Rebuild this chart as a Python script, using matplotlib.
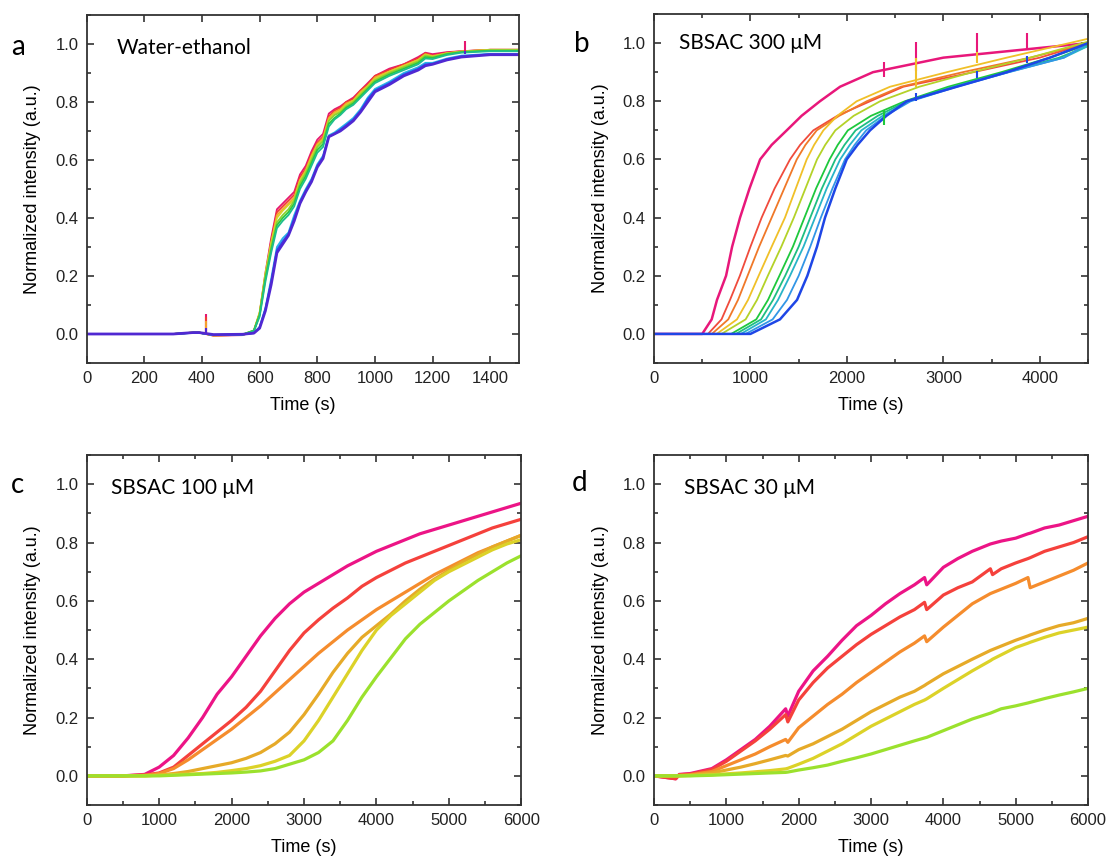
import matplotlib
matplotlib.use("Agg")
import matplotlib.pyplot as plt
from matplotlib.ticker import MultipleLocator

################################################################################
# Data
################################################################################
# panel a: water-ethanol, shared time grid
ta = [0, 300, 370, 390, 440, 540, 580, 600, 620, 640, 660, 680, 700, 720, 740,
      760, 780, 800, 820, 840, 860, 880, 900, 925, 950, 975, 1000, 1050, 1100,
      1150, 1175, 1200, 1250, 1300, 1400, 1500]
a_magenta = [0, 0, 0.005, 0.005, -0.006, -0.004, 0.01, 0.07, 0.21, 0.33, 0.43, 0.45,
             0.47, 0.49, 0.55, 0.58, 0.63, 0.67, 0.69, 0.76, 0.775, 0.785, 0.80,
             0.815, 0.84, 0.865, 0.89, 0.915, 0.93, 0.955, 0.97, 0.965, 0.972,
             0.975, 0.98, 0.98]
a_red = [0, 0, 0.005, 0.005, -0.005, -0.003, 0.01, 0.07, 0.2, 0.32, 0.42, 0.44,
         0.46, 0.48, 0.54, 0.57, 0.62, 0.66, 0.68, 0.75, 0.77, 0.78, 0.80, 0.81,
         0.84, 0.86, 0.89, 0.91, 0.93, 0.95, 0.968, 0.96, 0.97, 0.975, 0.98, 0.98]
a_orange = [0, 0, 0.005, 0.005, -0.005, -0.003, 0.01, 0.07, 0.2, 0.31, 0.41, 0.43,
            0.45, 0.47, 0.53, 0.565, 0.615, 0.655, 0.675, 0.745, 0.765, 0.775,
            0.795, 0.805, 0.835, 0.855, 0.885, 0.905, 0.925, 0.945, 0.965, 0.958,
            0.968, 0.974, 0.98, 0.98]
a_yellow = [0, 0, 0.005, 0.005, -0.005, -0.003, 0.012, 0.075, 0.21, 0.315, 0.4,
            0.425, 0.445, 0.465, 0.53, 0.56, 0.61, 0.65, 0.67, 0.74, 0.76, 0.77,
            0.79, 0.805, 0.83, 0.855, 0.88, 0.905, 0.925, 0.945, 0.963, 0.957,
            0.968, 0.974, 0.98, 0.98]
a_ygreen = [0, 0, 0.005, 0.005, -0.004, -0.002, 0.012, 0.07, 0.2, 0.3, 0.385, 0.41,
            0.43, 0.46, 0.52, 0.555, 0.6, 0.645, 0.665, 0.735, 0.755, 0.765, 0.785,
            0.8, 0.825, 0.85, 0.875, 0.9, 0.92, 0.94, 0.96, 0.955, 0.967, 0.973,
            0.978, 0.978]
a_green = [0, 0, 0.005, 0.005, -0.004, -0.002, 0.012, 0.065, 0.19, 0.29, 0.375, 0.4,
           0.42, 0.45, 0.51, 0.545, 0.59, 0.635, 0.655, 0.725, 0.745, 0.76, 0.78,
           0.795, 0.82, 0.845, 0.87, 0.895, 0.915, 0.935, 0.955, 0.952, 0.965,
           0.972, 0.977, 0.977]
a_teal = [0, 0, 0.004, 0.004, -0.003, -0.002, 0.01, 0.06, 0.18, 0.28, 0.365, 0.39,
          0.41, 0.44, 0.5, 0.535, 0.58, 0.625, 0.645, 0.715, 0.74, 0.755, 0.775,
          0.79, 0.815, 0.84, 0.865, 0.89, 0.91, 0.93, 0.95, 0.948, 0.962, 0.97,
          0.975, 0.975]
a_cyan = [0, 0, 0.004, 0.004, -0.003, -0.002, 0.004, 0.025, 0.09, 0.19, 0.3, 0.33,
          0.35, 0.41, 0.46, 0.5, 0.535, 0.585, 0.615, 0.685, 0.695, 0.71, 0.725,
          0.745, 0.775, 0.815, 0.845, 0.87, 0.9, 0.92, 0.935, 0.935, 0.95, 0.96,
          0.966, 0.966]
a_blue = [0, 0, 0.004, 0.004, -0.003, -0.002, 0.003, 0.022, 0.085, 0.18, 0.29, 0.32,
          0.345, 0.4, 0.455, 0.495, 0.53, 0.58, 0.61, 0.68, 0.69, 0.705, 0.72,
          0.74, 0.77, 0.81, 0.84, 0.865, 0.895, 0.915, 0.93, 0.932, 0.948, 0.958,
          0.965, 0.965]
a_violet = [0, 0, 0.005, 0.005, -0.002, -0.001, 0.003, 0.02, 0.08, 0.17, 0.28, 0.31,
            0.34, 0.39, 0.45, 0.49, 0.525, 0.575, 0.605, 0.68, 0.69, 0.7, 0.715,
            0.735, 0.765, 0.8, 0.835, 0.86, 0.89, 0.91, 0.925, 0.93, 0.945, 0.955,
            0.963, 0.963]
# small spikes in panel a
a_spike_t = [415, 415, 415, 415, 1312, 1312]
a_spike_lo = [0.0, 0.0, 0.0, 0.0, 0.975, 0.965]
a_spike_hi = [0.07, 0.06, 0.045, 0.02, 1.01, 0.975]

# panel b: SBSAC 300 uM, time at which each curve crosses the shared levels
b_levels = [0.05, 0.117, 0.2, 0.3, 0.4, 0.5, 0.6, 0.65, 0.7, 0.75, 0.8, 0.85,
            0.9, 0.95]
b_magenta = [598, 653, 747, 810, 892, 990, 1100, 1220, 1376, 1530, 1720, 1929,
             2270, 3000]
b_red = [700, 788, 890, 1000, 1116, 1250, 1410, 1515, 1652, 1900, 2240, 2585,
         3310, 4000]
b_orange = [770, 871, 970, 1090, 1220, 1350, 1480, 1570, 1687, 1920, 2205, 2560,
            3200, 3900]
b_yellow = [860, 975, 1085, 1220, 1358, 1470, 1583, 1660, 1756, 1900, 2101, 2447,
            3035, 3657]
b_ygreen = [950, 1068, 1180, 1320, 1450, 1570, 1690, 1775, 1880, 2070, 2344, 2750,
            3300, 3900]
b_green = [1060, 1182, 1300, 1440, 1560, 1680, 1820, 1905, 2010, 2250, 2600, 3050,
           3600, 4100]
b_teal = [1110, 1234, 1360, 1500, 1620, 1740, 1880, 1975, 2090, 2320, 2620, 3100,
          3650, 4200]
b_cyan = [1160, 1286, 1410, 1550, 1670, 1790, 1930, 2030, 2150, 2370, 2640, 3120,
          3670, 4250]
b_lblue = [1230, 1379, 1500, 1620, 1730, 1850, 1980, 2080, 2200, 2400, 2660, 3140,
           3680, 4250]
b_blue = [1306, 1483, 1590, 1690, 1773, 1880, 1998, 2110, 2240, 2410, 2620, 3139,
          3657, 4106]
b_start = [500, 560, 600, 650, 700, 800, 850, 900, 950, 1000]
b_end = [1.0, 1.0, 1.0, 1.015, 1.005, 0.995, 0.99, 0.99, 1.0, 1.0]
b_spike_t = [2380, 2720, 3350, 3870, 2720, 3350, 2380, 2720, 3350, 3870]
b_spike_lo = [0.885, 0.905, 0.955, 0.975, 0.85, 0.93, 0.72, 0.8, 0.88, 0.93]
b_spike_hi = [0.935, 1.005, 1.035, 1.035, 0.95, 0.97, 0.77, 0.83, 0.905, 0.955]
b_spike_col = [0, 0, 0, 0, 3, 3, 5, 9, 9, 9]

# panel c: SBSAC 100 uM
tc = [0, 500, 800, 1000, 1200, 1400, 1600, 1800, 2000, 2200, 2400, 2600, 2800,
      3000, 3200, 3400, 3600, 3800, 4000, 4200, 4400, 4600, 4800, 5000, 5200,
      5400, 5600, 5800, 6000]
c_magenta = [0, 0, 0.005, 0.03, 0.07, 0.13, 0.2, 0.28, 0.34, 0.41, 0.48, 0.54,
             0.59, 0.63, 0.66, 0.69, 0.72, 0.745, 0.77, 0.79, 0.81, 0.83, 0.845,
             0.86, 0.875, 0.89, 0.905, 0.92, 0.935]
c_red = [0, 0, 0.003, 0.01, 0.03, 0.07, 0.11, 0.15, 0.19, 0.235, 0.29, 0.36, 0.43,
         0.49, 0.535, 0.575, 0.61, 0.65, 0.68, 0.705, 0.73, 0.75, 0.77, 0.79, 0.81,
         0.83, 0.85, 0.865, 0.88]
c_orange = [0, 0, 0.002, 0.008, 0.025, 0.055, 0.09, 0.125, 0.16, 0.2, 0.24, 0.285,
            0.33, 0.375, 0.42, 0.46, 0.5, 0.535, 0.57, 0.6, 0.63, 0.66, 0.69, 0.715,
            0.74, 0.765, 0.785, 0.805, 0.825]
c_oyellow = [0, 0, 0, 0.003, 0.008, 0.015, 0.025, 0.035, 0.045, 0.06, 0.08, 0.11,
             0.15, 0.21, 0.28, 0.355, 0.42, 0.475, 0.515, 0.555, 0.6, 0.64, 0.675,
             0.705, 0.735, 0.76, 0.785, 0.805, 0.825]
c_yellow = [0, 0, 0, 0.002, 0.004, 0.006, 0.008, 0.012, 0.018, 0.025, 0.035, 0.05,
            0.07, 0.12, 0.19, 0.27, 0.35, 0.43, 0.5, 0.55, 0.59, 0.63, 0.67, 0.7,
            0.725, 0.75, 0.775, 0.795, 0.81]
c_gyellow = [0, 0, 0, 0, 0.002, 0.004, 0.006, 0.008, 0.01, 0.013, 0.017, 0.025,
             0.04, 0.055, 0.08, 0.12, 0.19, 0.27, 0.34, 0.405, 0.47, 0.52, 0.56,
             0.6, 0.635, 0.67, 0.7, 0.73, 0.755]

# panel d: SBSAC 30 uM
td = [0, 300, 350, 500, 800, 1000, 1200, 1400, 1600, 1820, 1850, 2000, 2200, 2400,
      2600, 2800, 3000, 3200, 3400, 3600, 3740, 3770, 4000, 4200, 4400, 4650, 4680,
      4800, 5000, 5170, 5200, 5400, 5600, 5800, 6000]
d_magenta = [0, -0.01, 0.005, 0.008, 0.025, 0.055, 0.09, 0.125, 0.17, 0.23, 0.205,
             0.29, 0.36, 0.41, 0.465, 0.515, 0.55, 0.59, 0.625, 0.655, 0.68, 0.655,
             0.715, 0.745, 0.77, 0.795, 0.797, 0.805, 0.815, 0.83, 0.832, 0.85,
             0.86, 0.875, 0.89]
d_red = [0, -0.01, 0.004, 0.006, 0.022, 0.05, 0.085, 0.12, 0.16, 0.21, 0.185, 0.26,
         0.32, 0.37, 0.41, 0.45, 0.485, 0.515, 0.545, 0.57, 0.595, 0.57, 0.62,
         0.645, 0.665, 0.71, 0.69, 0.71, 0.73, 0.745, 0.748, 0.77, 0.785, 0.8, 0.82]
d_orange = [0, 0, 0.002, 0.004, 0.015, 0.035, 0.055, 0.075, 0.1, 0.125, 0.115,
            0.165, 0.205, 0.245, 0.28, 0.32, 0.355, 0.39, 0.425, 0.455, 0.48, 0.46,
            0.51, 0.55, 0.59, 0.625, 0.628, 0.64, 0.66, 0.68, 0.645, 0.665, 0.685,
            0.705, 0.73]
d_oyellow = [0, 0, 0, 0.002, 0.01, 0.02, 0.03, 0.042, 0.055, 0.07, 0.068, 0.09,
             0.11, 0.135, 0.16, 0.19, 0.22, 0.245, 0.27, 0.29, 0.31, 0.315, 0.35,
             0.375, 0.4, 0.43, 0.433, 0.445, 0.465, 0.48, 0.483, 0.5, 0.515, 0.525,
             0.54]
d_yellow = [0, 0, 0, 0.001, 0.004, 0.007, 0.01, 0.014, 0.018, 0.024, 0.026, 0.04,
            0.06, 0.085, 0.11, 0.14, 0.17, 0.195, 0.22, 0.245, 0.26, 0.264, 0.3,
            0.33, 0.36, 0.395, 0.4, 0.415, 0.44, 0.455, 0.458, 0.475, 0.49, 0.5,
            0.51]
d_gyellow = [0, 0, 0, 0, 0.002, 0.004, 0.006, 0.008, 0.01, 0.012, 0.013, 0.02,
             0.028, 0.037, 0.05, 0.062, 0.075, 0.09, 0.105, 0.12, 0.13, 0.132,
             0.155, 0.175, 0.195, 0.215, 0.218, 0.23, 0.24, 0.25, 0.252, 0.265,
             0.277, 0.288, 0.3]

################################################################################
# Styles
################################################################################
cols_a = ['#e6176f', '#f03c32', '#f5a02d', '#d8d228', '#8cd232', '#2dc83c',
          '#1ebe8c', '#28b4e6', '#2850f0', '#5028d2']
cols_b = ['#e8177a', '#f04b3c', '#f07828', '#f0c028', '#b4d228', '#1ec83c',
          '#1ebe82', '#28b4c8', '#3296e6', '#1e46e6']
cols_cd = ['#ec1486', '#f5413c', '#f58c2d', '#e6aa28', '#dcd228', '#9be12d']

TICK_FONT = 'Liberation Sans'
TEXT_FONT = ['Lato', 'DejaVu Sans']
plt.rcParams['font.family'] = TICK_FONT


def style_axes(ax, xmax, xmajor, xminor):
    ax.set_xlim(0, xmax)
    ax.set_ylim(-0.1, 1.1)
    ax.xaxis.set_major_locator(MultipleLocator(xmajor))
    if xminor:
        ax.xaxis.set_minor_locator(MultipleLocator(xminor))
    ax.yaxis.set_major_locator(MultipleLocator(0.2))
    ax.yaxis.set_minor_locator(MultipleLocator(0.1))
    ax.yaxis.set_major_formatter(matplotlib.ticker.FormatStrFormatter('%.1f'))
    ax.tick_params(which='both', direction='in', top=True, right=True,
                   labelsize=12, colors='#222222', width=1.1)
    ax.tick_params(which='major', length=5, pad=6)
    ax.tick_params(which='minor', length=3)
    for s in ax.spines.values():
        s.set_linewidth(1.3)
        s.set_color('#333333')
    ax.set_xlabel('Time (s)', fontsize=13, labelpad=8)
    ax.set_ylabel('Normalized intensity (a.u.)', fontsize=13, labelpad=10)


################################################################################
# Plot
################################################################################
fig = plt.figure(figsize=(11.1, 8.61), dpi=100)
axa = fig.add_axes([0.0781, 0.5784, 0.3895, 0.4042])
axb = fig.add_axes([0.5892, 0.5784, 0.3910, 0.4053])
axc = fig.add_axes([0.0781, 0.0650, 0.3916, 0.4065])
axd = fig.add_axes([0.5892, 0.0650, 0.3910, 0.4065])

# a
series_a = [a_magenta, a_red, a_orange, a_yellow, a_ygreen, a_green, a_teal,
            a_cyan, a_blue, a_violet]
for i, ys in enumerate(series_a):
    axa.plot(ta, ys, color=cols_a[i], lw=2.0 if i == 9 else 1.3)
spk_cols_a = [cols_a[0], cols_a[1], cols_a[2], cols_a[9], cols_a[0], cols_a[9]]
axa.vlines(a_spike_t, a_spike_lo, a_spike_hi, colors=spk_cols_a, lw=1.5)
style_axes(axa, 1500, 200, None)

# b
series_b = [b_magenta, b_red, b_orange, b_yellow, b_ygreen, b_green, b_teal,
            b_cyan, b_lblue, b_blue]
for i, ts in enumerate(series_b):
    xs = [0, b_start[i]] + ts + [4500]
    ys = [0, 0] + b_levels + [b_end[i]]
    axb.plot(xs, ys, color=cols_b[i], lw=1.8 if i in (0, 9) else 1.3)
axb.vlines(b_spike_t, b_spike_lo, b_spike_hi,
           colors=[cols_b[k] for k in b_spike_col], lw=1.5)
style_axes(axb, 4500, 1000, 500)

# c
series_c = [c_magenta, c_red, c_orange, c_oyellow, c_yellow, c_gyellow]
for i, ys in enumerate(series_c):
    axc.plot(tc, ys, color=cols_cd[i], lw=2.3)
style_axes(axc, 6000, 1000, 500)

# d
series_d = [d_magenta, d_red, d_orange, d_oyellow, d_yellow, d_gyellow]
for i, ys in enumerate(series_d):
    axd.plot(td, ys, color=cols_cd[i], lw=2.3)
style_axes(axd, 6000, 1000, 500)

# titles inside panels
axa.text(0.07, 0.905, 'Water-ethanol', transform=axa.transAxes, fontsize=15,
         family=TEXT_FONT, va='center', ha='left')
axb.text(0.058, 0.917, 'SBSAC 300 \u03bcM', transform=axb.transAxes,
         fontsize=15, family=TEXT_FONT, va='center', ha='left')
axc.text(0.056, 0.906, 'SBSAC 100 \u03bcM', transform=axc.transAxes,
         fontsize=15, family=TEXT_FONT, va='center', ha='left')
axd.text(0.069, 0.906, 'SBSAC 30 \u03bcM', transform=axd.transAxes,
         fontsize=15, family=TEXT_FONT, va='center', ha='left')

# panel letters
for lab, x, y in [('a', 0.0162, 0.9454), ('b', 0.5243, 0.9489),
                  ('c', 0.0162, 0.4367), ('d', 0.5225, 0.4390)]:
    fig.text(x, y, lab, fontsize=20, family=TEXT_FONT, ha='center',
             va='center')

fig.savefig('out.png', dpi=100)
